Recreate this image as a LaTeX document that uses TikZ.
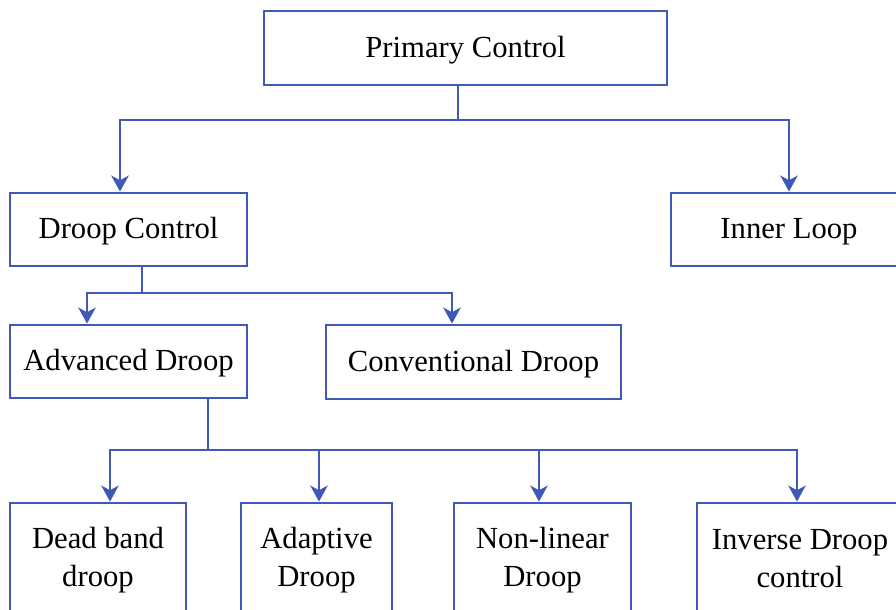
\documentclass[tikz,border=0pt]{standalone}
\usepackage{fontspec}
\setmainfont{Liberation Serif}
\usetikzlibrary{arrows.meta}
\definecolor{lineblue}{RGB}{62,89,182}
% strut that centres capital letters in a box
\newcommand\capstrut{\rule[-4pt]{0pt}{23pt}}
\begin{document}
\begin{tikzpicture}[x=0.75pt,y=-0.75pt,
  box/.style={draw=lineblue, line width=2.1pt, rectangle, inner sep=0pt,
    align=center, font=\fontsize{23}{28.5}\selectfont},
  link/.style={draw=lineblue, line width=2.1pt},
  arr/.style={link, -{Stealth[length=12pt,width=13pt,inset=3.5pt]}}]
\useasboundingbox (0,0) rectangle (896,610);
\clip (0,0) rectangle (896,610);

% tree levels
\node[box, minimum width=302.25pt, minimum height=55.5pt] (pc) at (465.5,48) {\capstrut Primary Control};
\node[box, minimum width=177.75pt, minimum height=54.75pt] (dc) at (128.5,229.5) {\capstrut Droop Control};
\node[box, minimum width=177pt, minimum height=54.75pt] (il) at (789,229.5) {\capstrut Inner Loop};
\node[box, minimum width=177.75pt, minimum height=54.75pt] (ad) at (128.5,361.5) {\capstrut Advanced Droop};
\node[box, minimum width=221.25pt, minimum height=55.5pt] (cd) at (473.5,362) {\capstrut Conventional Droop};
\node[box, minimum width=132pt, minimum height=82.5pt] (db) at (98,558) {\capstrut Dead band\\\capstrut droop};
\node[box, minimum width=113.25pt, minimum height=82.5pt] (ap) at (316.5,558) {\capstrut Adaptive\\\capstrut Droop};
\node[box, minimum width=132.75pt, minimum height=82.5pt] (nl) at (542.5,558) {\capstrut Non-linear\\\capstrut Droop};
\node[box, minimum width=154.5pt, minimum height=82.5pt] (id) at (800,558) {\capstrut Inverse Droop\\\capstrut control};

% branches from Primary Control
\coordinate (j1) at (458,120);
\draw[link] (458,0 |- pc.south) -- (j1);
\draw[arr] (j1) -| (120,0 |- dc.north);
\draw[arr] (j1) -| (il.north);

% branches from Droop Control
\coordinate (j2) at (142,293);
\draw[link] (142,0 |- dc.south) -- (j2);
\draw[arr] (j2) -| (87,0 |- ad.north);
\draw[arr] (j2) -| (452,0 |- cd.north);

% branches from Advanced Droop
\coordinate (j3) at (208,450);
\draw[link] (208,0 |- ad.south) -- (j3);
\draw[arr] (j3) -| (110,0 |- db.north);
\draw[arr] (j3) -| (319,0 |- ap.north);
\draw[arr] (j3) -| (539,0 |- nl.north);
\draw[arr] (j3) -| (797,0 |- id.north);
\end{tikzpicture}
\end{document}
